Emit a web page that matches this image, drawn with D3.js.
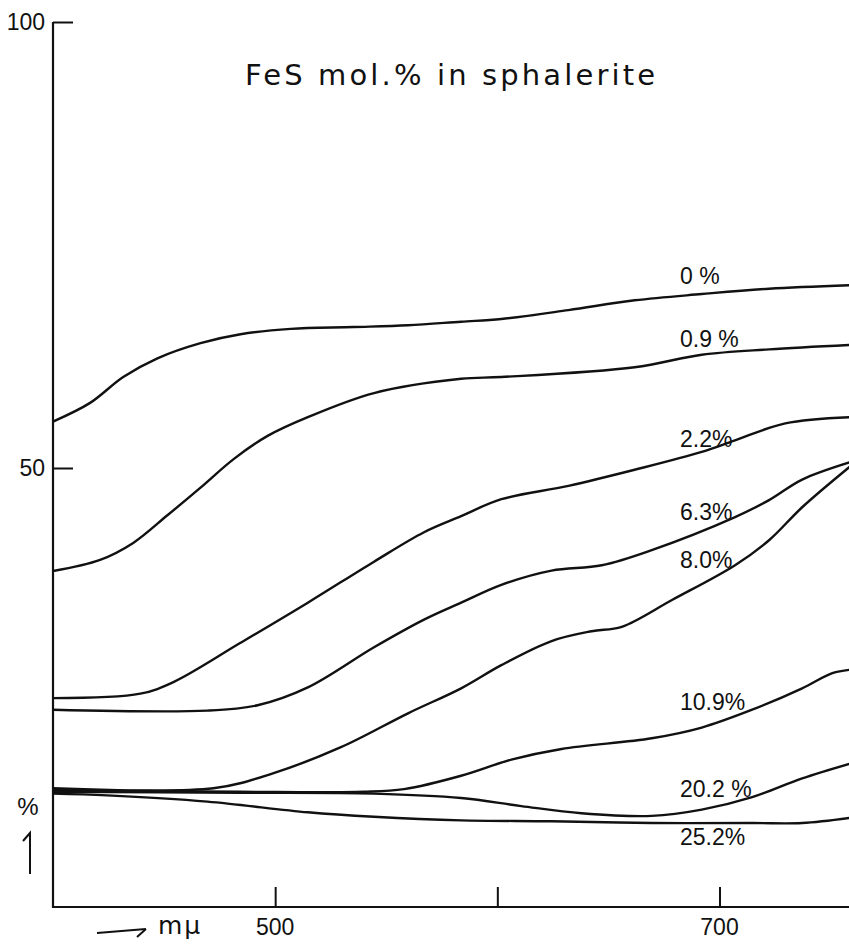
<!DOCTYPE html>
<html><head><meta charset="utf-8">
<script src="https://cdn.jsdelivr.net/npm/d3@7/dist/d3.min.js"></script>
<style>body{margin:0;background:#fff}svg{display:block}</style>
</head><body>
<script>
// ---- data (wavelength mμ, reflectance %) ----
const s0   = [[400,55.2],[416.7,57.3],[431.6,60.2],[447,62.3],[466.4,64.0],[484.4,65.0],[507,65.6],[535.4,65.8],[559.8,66.0],[583.7,66.4],[601.8,66.7],[632,67.7],[661.8,68.8],[692,69.5],[722.3,70.1],[759.4,70.5]];
const s09  = [[400,38.45],[421.2,39.7],[436.1,41.6],[451.5,44.7],[466.4,47.8],[481.3,51.0],[496.6,53.6],[514.7,55.7],[544.5,58.4],[583.7,60.0],[601.8,60.2],[661.8,61.3],[692,62.7],[722.3,63.3],[759.4,63.8]];
const s22  = [[400,24.2],[439.3,24.7],[454.2,26.0],[484.4,30.4],[514.7,34.9],[544.5,39.5],[567,42.8],[583.7,44.6],[601.8,46.5],[632,48.0],[661.8,49.8],[692,51.8],[707,53.1],[729.6,55.0],[759.4,55.7]];
const s63  = [[400,22.9],[469.5,22.8],[492.1,23.4],[514.7,25.4],[544.5,29.9],[567,33.0],[583.7,34.9],[601.8,36.9],[624.4,38.5],[647,39.1],[669.5,40.8],[707,44.5],[722.3,46.4],[737.2,48.7],[759.4,50.7]];
const s80  = [[400,14.1],[472.2,14.1],[499.3,15.8],[529.6,18.7],[559.8,22.5],[583.7,25.3],[601.8,27.9],[624.4,30.6],[642.4,31.7],[656,32.2],[678.6,35.2],[707,39.1],[722.3,41.9],[737.2,45.6],[759.4,50.3]];
const s109 = [[400,13.9],[484.4,13.7],[540,13.7],[558,14.0],[583.7,15.5],[606.3,17.3],[628.9,18.5],[669.5,19.7],[692,20.9],[714.7,22.9],[737.2,25.3],[750.8,27.0],[759.4,27.4]];
const s202 = [[400,13.7],[484.4,13.6],[544.5,13.5],[583.7,13.0],[610.8,12.1],[637.9,11.3],[669.5,11.0],[692,11.7],[714.7,13.1],[737.2,15.2],[759.4,16.9]];
const s252 = [[400,13.5],[424.4,13.3],[469.5,12.6],[514.7,11.4],[544.5,10.9],[583.7,10.5],[624.4,10.4],[669.5,10.2],[714.7,10.2],[737.2,10.2],[759.4,10.8]];
const seriesNames = ["0 %","0.9 %","2.2%","6.3%","8.0%","10.9%","20.2 %","25.2%"];
const seriesData = [s0,s09,s22,s63,s80,s109,s202,s252];
const labelAnchors = [[680,284],[680,347],[680,447],[680,520],[680,568],[680,710],[680,797],[680,845]]; // label position (px)
const xTicks = [500,600,700];
const xTickLabels = ["500","","700"];
const yTicks = [100,50];
const titleText = "FeS mol.% in sphalerite";

const W=849,H=944;
const svg=d3.select("body").append("svg").attr("width",W).attr("height",H);
const x=d3.scaleLinear().domain([400,700]).range([53,719.5]);
const y=d3.scaleLinear().domain([0,100]).range([914,22]);
const axisY=907, right=849;
const font="'Liberation Sans', Arial, sans-serif";
const tfont="'DejaVu Sans', sans-serif";

svg.append("clipPath").attr("id","clip").append("rect").attr("x",53).attr("y",0).attr("width",right-53).attr("height",axisY);

// curves
const line=d3.line().x(d=>x(d[0])).y(d=>y(d[1])).curve(d3.curveCatmullRom.alpha(0.5));
svg.append("g").attr("clip-path","url(#clip)").selectAll("path").data(seriesData).join("path")
  .attr("d",line).attr("fill","none").attr("stroke","#111").attr("stroke-width",2.4).attr("stroke-linejoin","round");

// axes
svg.append("line").attr("x1",53).attr("x2",53).attr("y1",y(100)).attr("y2",axisY+1).attr("stroke","#111").attr("stroke-width",2.2);
svg.append("line").attr("x1",52).attr("x2",right).attr("y1",axisY).attr("y2",axisY).attr("stroke","#111").attr("stroke-width",2.2);

const xg=svg.append("g").attr("transform",`translate(0,${axisY})`)
  .call(d3.axisTop(x).tickValues(xTicks).tickSize(20).tickFormat(""));
xg.select(".domain").remove();
xg.selectAll("line").attr("stroke","#111").attr("stroke-width",2);
svg.selectAll(".xl").data(xTicks).join("text").attr("class","xl")
  .attr("x",d=>x(d)).attr("y",935).attr("text-anchor","middle")
  .attr("font-family",font).attr("font-size",23).attr("fill","#111")
  .text((d,i)=>xTickLabels[i]);

const yg=svg.append("g").attr("transform","translate(53,0)")
  .call(d3.axisRight(y).tickValues(yTicks).tickSize(20).tickFormat(""));
yg.select(".domain").remove();
yg.selectAll("line").attr("stroke","#111").attr("stroke-width",2);
svg.selectAll(".yl").data(yTicks).join("text").attr("class","yl")
  .attr("x",45).attr("y",d=>y(d)+8).attr("text-anchor","end")
  .attr("font-family",font).attr("font-size",23).attr("fill","#111").text(d=>d);

// series labels
svg.selectAll(".sl").data(seriesNames).join("text").attr("class","sl")
  .attr("x",(d,i)=>labelAnchors[i][0]).attr("y",(d,i)=>labelAnchors[i][1])
  .attr("font-family",font).attr("font-size",23).attr("fill","#111").text(d=>d);

// title
svg.append("text").attr("x",245).attr("y",85).attr("font-family",tfont).attr("font-size",29)
  .attr("textLength",410).attr("lengthAdjust","spacing").attr("fill","#111").text(titleText);

// y unit: % with up arrow
svg.append("text").attr("x",28).attr("y",815).attr("text-anchor","middle").attr("font-family",font).attr("font-size",24).attr("fill","#111").text("%");
svg.append("path").attr("d","M30,874 L30,833 L23,841").attr("fill","none").attr("stroke","#111").attr("stroke-width",2);
// x unit: arrow m μ
svg.append("path").attr("d","M97,933 L146,929 M137,937 L146,929").attr("fill","none").attr("stroke","#111").attr("stroke-width",2);
svg.append("text").attr("x",158).attr("y",934).attr("font-family",tfont).attr("font-size",25).attr("letter-spacing",2).attr("fill","#111").text("mμ");
</script>
</body></html>
